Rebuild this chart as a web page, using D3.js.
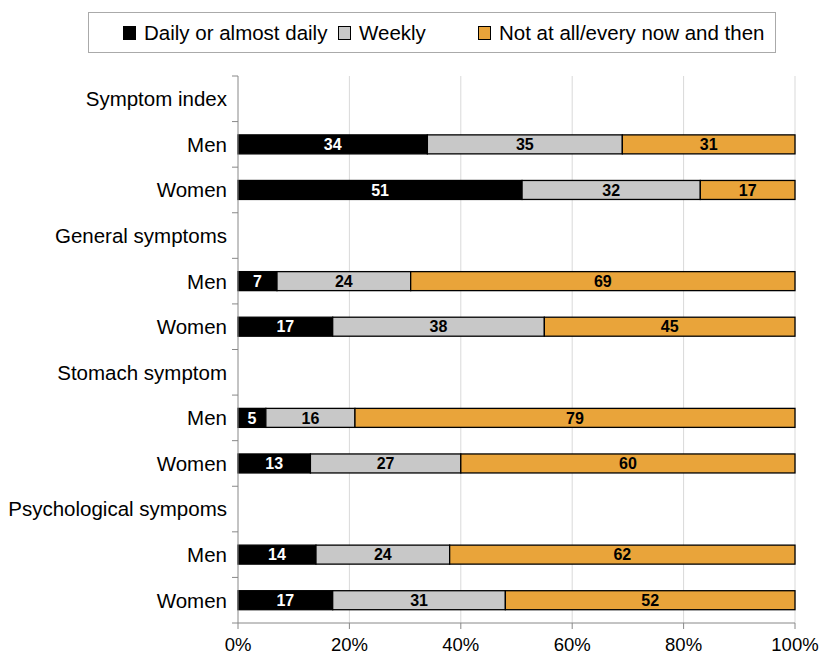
<!doctype html>
<html>
<head>
<meta charset="utf-8">
<script src="https://cdn.jsdelivr.net/npm/d3@7"></script>
<style>
body { margin: 0; background: #fff; }
text { font-family: "Liberation Sans", Arial, sans-serif; }
</style>
</head>
<body>
<script>
// rows top to bottom (headers have no bar)
var rows = ["Symptom index", "Men", "Women", "General symptoms", "Men", "Women",
            "Stomach symptom", "Men", "Women", "Psychological sympoms", "Men", "Women"];
var isHeader = [true, false, false, true, false, false, true, false, false, true, false, false];
var daily  = [null, 34, 51, null, 7, 17, null, 5, 13, null, 14, 17];
var weekly = [null, 35, 32, null, 24, 38, null, 16, 27, null, 24, 31];
var notAll = [null, 31, 17, null, 69, 45, null, 79, 60, null, 62, 52];
var seriesNames = ["Daily or almost daily", "Weekly", "Not at all/every now and then"];
var colors = ["#000000", "#c8c8c8", "#e9a43a"];
var ticks = [0, 20, 40, 60, 80, 100];

var w = 820, h = 661;
var m = {left: 238, right: 25, top: 76, bottom: 38};

var svg = d3.select("body").append("svg").attr("width", w).attr("height", h);

var x = d3.scaleLinear().domain([0, 100]).range([m.left, w - m.right]);
var y = d3.scaleBand().domain(d3.range(rows.length)).range([m.top, h - m.bottom]);

// gridlines
svg.selectAll("line.grid").data(ticks.slice(1)).enter().append("line")
  .attr("x1", function(d){ return x(d); }).attr("x2", function(d){ return x(d); })
  .attr("y1", m.top).attr("y2", h - m.bottom)
  .attr("stroke", "#d9d9d9").attr("stroke-width", 1);

// stacked data
var data = rows.map(function(r, i){
  if (isHeader[i]) return [];
  var vals = [daily[i], weekly[i], notAll[i]];
  var acc = 0;
  return vals.map(function(v, k){ var s = {i: i, k: k, v: v, x0: acc, x1: acc + v}; acc += v; return s; });
});
var segs = [].concat.apply([], data);

var bh = 19;
svg.selectAll("rect.seg").data(segs).enter().append("rect")
  .attr("x", function(d){ return x(d.x0); })
  .attr("width", function(d){ return x(d.x1) - x(d.x0); })
  .attr("y", function(d){ return y(d.i) + y.bandwidth()/2 - bh/2; })
  .attr("height", bh)
  .attr("fill", function(d){ return colors[d.k]; })
  .attr("stroke", "#000").attr("stroke-width", 1.3);

svg.selectAll("text.val").data(segs).enter().append("text")
  .attr("x", function(d){ return (x(d.x0) + x(d.x1)) / 2; })
  .attr("y", function(d){ return y(d.i) + y.bandwidth()/2; })
  .attr("dy", "0.36em")
  .attr("text-anchor", "middle")
  .attr("font-size", "16px").attr("font-weight", "bold")
  .attr("fill", function(d){ return d.k == 0 ? "#fff" : "#000"; })
  .text(function(d){ return d.v; });

// left axis
var ax = svg.append("g").attr("stroke", "#888");
ax.append("line").attr("x1", m.left).attr("x2", m.left).attr("y1", m.top).attr("y2", h - m.bottom);
ax.selectAll("line.t").data(d3.range(rows.length + 1)).enter().append("line")
  .attr("x1", m.left - 6).attr("x2", m.left)
  .attr("y1", function(d){ return m.top + d * y.step(); })
  .attr("y2", function(d){ return m.top + d * y.step(); });

// bottom axis
ax.append("line").attr("x1", m.left).attr("x2", w - m.right).attr("y1", h - m.bottom).attr("y2", h - m.bottom);
ax.selectAll("line.xt").data(ticks).enter().append("line")
  .attr("x1", function(d){ return x(d); }).attr("x2", function(d){ return x(d); })
  .attr("y1", h - m.bottom).attr("y2", h - m.bottom + 6);

svg.selectAll("text.xl").data(ticks).enter().append("text")
  .attr("x", function(d){ return x(d); }).attr("y", 651)
  .attr("text-anchor", "middle").attr("font-size", "18.5px").attr("fill", "#000")
  .text(function(d){ return d + "%"; });

// category labels
svg.selectAll("text.cat").data(rows).enter().append("text")
  .attr("x", 227)
  .attr("y", function(d, i){ return y(i) + y.bandwidth()/2; })
  .attr("dy", "0.36em").attr("text-anchor", "end")
  .attr("font-size", "20.5px").attr("fill", "#000")
  .text(function(d){ return d; });

// legend
svg.append("rect").attr("x", 88.5).attr("y", 12.5).attr("width", 687).attr("height", 40)
  .attr("fill", "#fff").attr("stroke", "#aaa");
var legX = [123, 338, 478];
var lg = svg.selectAll("g.leg").data(seriesNames).enter().append("g")
  .attr("transform", function(d, i){ return "translate(" + legX[i] + ",33)"; });
lg.append("rect").attr("x", 0.5).attr("y", -6.5).attr("width", 12).attr("height", 13)
  .attr("fill", function(d, i){ return colors[i]; }).attr("stroke", "#000");
lg.append("text").attr("x", 21).attr("dy", "0.36em").attr("font-size", "20.5px")
  .text(function(d){ return d; });
</script>
</body>
</html>
